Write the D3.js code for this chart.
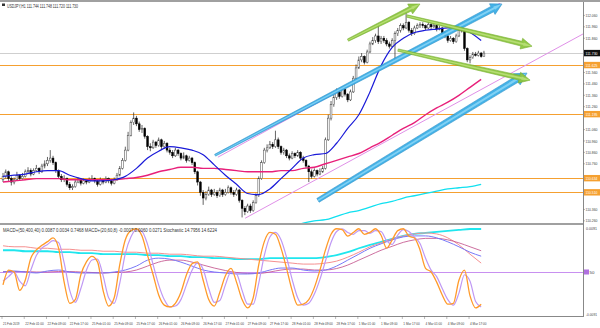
<!DOCTYPE html>
<html><head><meta charset="utf-8">
<script src="https://cdn.jsdelivr.net/npm/d3@7"></script>
<style>body{margin:0;background:#fff}svg{display:block;font-family:"Liberation Sans",Arial,sans-serif}.ax{font-family:"Liberation Sans Narrow","Liberation Sans",Arial,sans-serif}</style>
</head><body><svg id="c" width="600" height="328"></svg>
<script>
// ---------------- DATA ----------------
const symbolTitle = "USDJPY,H1  111.744 111.748 111.720 111.730";
const subTitle = "MACD+(50,400,40) 0.0087 0.0034 0.7468   MACD+(20,60,8) -0.0007 0.0060 0.0271   Stochastic 14.7956 14.6224";
const firstOpen = 110.62;
const closes = [110.65,110.69,110.63,110.60,110.62,110.66,110.63,
110.65,110.69,110.70,110.67,110.70,110.72,110.69,110.74,110.76,
110.79,110.81,110.77,110.70,
110.65,110.62,110.63,
110.58,110.55,110.56,110.60,
110.62,110.59,110.61,110.60,110.62,
110.63,110.61,110.58,110.62,110.60,110.63,110.61,110.59,110.62,
110.66,110.72,110.79,110.88,
111.01,111.12,111.16,
111.11,111.06,111.07,111.00,110.91,
110.90,110.95,110.92,110.97,110.91,110.94,
110.88,110.86,110.83,110.88,110.85,110.81,
110.83,110.79,110.81,110.77,
110.69,110.60,110.51,110.46,110.49,
110.53,110.49,110.51,110.48,110.53,110.49,110.51,110.55,110.51,110.49,110.53,
110.44,110.37,110.34,110.39,110.35,
110.42,110.48,
110.63,110.77,
110.88,110.90,110.93,110.91,110.97,
110.91,110.86,110.88,110.83,110.81,
110.85,110.83,110.86,110.81,110.79,
110.74,110.69,110.65,110.70,110.67,110.69,110.72,
110.97,111.16,111.28,
111.34,111.39,111.35,111.41,111.37,111.32,111.39,
111.51,111.60,
111.67,111.70,111.65,111.74,
111.81,111.84,111.88,111.83,111.86,
111.84,111.81,111.79,111.84,111.90,
111.93,111.97,111.95,112.00,
111.93,111.90,111.95,111.97,
111.98,111.97,111.95,111.98,111.96,111.97,111.94,111.95,
111.91,111.88,111.84,111.86,111.83,111.88,111.93,
111.93,
111.77,111.67,
111.69,
111.72,111.71,111.73,111.70,111.73];
const highs = [110.68,110.71,110.70,110.65,110.64,110.69,110.67,110.68,110.71,110.73,
110.72,110.72,110.75,110.73,110.76,110.79,110.82,110.88,110.83,110.78,
110.71,110.67,110.66,110.64,110.60,110.58,110.62,110.64,110.63,110.63,
110.62,110.64,110.66,110.64,110.62,110.64,110.63,110.65,110.64,110.62,
110.64,110.68,110.74,110.81,110.91,111.04,111.14,111.21,111.18,111.13,
111.10,111.08,111.01,110.94,110.97,110.96,110.99,110.98,110.96,110.95,
110.90,110.88,110.90,110.89,110.86,110.86,110.84,110.83,110.82,110.78,
110.70,110.61,110.53,110.52,110.56,110.54,110.54,110.53,110.55,110.54,
110.54,110.57,110.56,110.53,110.55,110.54,110.45,110.39,110.41,110.41,
110.44,110.50,110.65,110.79,110.90,110.93,110.96,110.95,111.05,110.99,
110.92,110.90,110.89,110.85,110.87,110.86,110.88,110.87,110.83,110.80,
110.75,110.71,110.72,110.71,110.72,110.74,110.99,111.19,111.31,111.37,
111.42,111.41,111.43,111.42,111.38,111.41,111.53,111.63,111.70,111.73,
111.71,111.76,111.83,111.87,111.90,111.98,111.88,111.88,111.86,111.83,
111.86,111.92,111.95,111.99,111.99,112.08,112.01,111.95,111.97,111.99,
112.00,112.00,111.98,112.00,111.99,111.99,111.98,111.97,111.96,111.92,
111.89,111.88,111.87,111.90,111.95,111.99,111.94,111.78,111.71,111.74,
111.74,111.75,111.74,111.75];
const lows = [110.60,110.63,110.61,110.57,110.58,110.61,110.61,110.62,110.64,110.67,
110.65,110.66,110.69,110.67,110.68,110.72,110.74,110.77,110.75,110.68,
110.63,110.60,110.60,110.56,110.53,110.53,110.55,110.59,110.57,110.58,
110.58,110.59,110.61,110.59,110.56,110.57,110.58,110.59,110.59,110.57,
110.58,110.61,110.65,110.71,110.78,110.87,111.00,111.10,111.09,111.04,
111.03,110.98,110.88,110.87,110.89,110.90,110.91,110.89,110.89,110.86,
110.84,110.81,110.82,110.83,110.79,110.80,110.77,110.78,110.75,110.67,
110.57,110.48,110.40,110.44,110.48,110.47,110.48,110.46,110.47,110.47,
110.48,110.50,110.49,110.47,110.48,110.42,110.29,110.31,110.33,110.33,
110.34,110.41,110.47,110.62,110.76,110.86,110.89,110.89,110.90,110.89,
110.84,110.84,110.81,110.79,110.80,110.81,110.82,110.79,110.77,110.72,
110.60,110.63,110.64,110.65,110.66,110.68,110.71,110.96,111.14,111.26,
111.32,111.33,111.34,111.35,111.30,111.31,111.38,111.50,111.59,111.65,
111.63,111.64,111.73,111.80,111.82,111.81,111.81,111.82,111.79,111.77,
111.78,111.67,111.88,111.91,111.93,111.94,111.91,111.88,111.89,111.94,
111.95,111.95,111.93,111.94,111.94,111.95,111.92,111.93,111.89,111.86,
111.82,111.83,111.81,111.82,111.87,111.91,111.75,111.65,111.64,111.68,
111.70,111.70,111.69,111.70];
// moving averages, one value every 4 bars (bar 0,4,8,...)
const maBlue = [110.65,110.66,110.67,110.69,110.70,110.70,110.66,110.63,110.61,110.61,
110.62,110.65,110.72,110.81,110.87,110.91,110.90,110.88,110.84,110.75,
110.66,110.58,110.50,110.49,110.54,110.63,110.72,110.81,110.84,110.85,
110.94,111.07,111.19,111.39,111.62,111.78,111.86,111.91,111.93,111.94,
111.95,111.95,111.91,111.84];
const maRed = [110.60,110.61,110.62,110.63,110.63,110.63,110.62,110.62,110.62,110.62,
110.62,110.63,110.64,110.66,110.69,110.71,110.73,110.73,110.72,110.72,
110.71,110.70,110.69,110.69,110.69,110.70,110.70,110.72,110.73,110.76,
110.79,110.82,110.85,110.90,110.95,111.01,111.07,111.12,111.19,111.25,
111.30,111.36,111.43,111.50];
// slow MA, every 4 bars starting at bar 100
const maCyanStart = 100;
const maCyan = [110.19,110.21,110.24,110.26,110.27,110.30,110.33,110.35,110.38,110.41,
110.43,110.46,110.48,110.50,110.52,110.54,110.55,110.56,110.58];
const levelLines = [111.625, 111.195, 110.634, 110.510];
const levelLabels = ["111.625","111.195","110.634","110.510"];
const lastPrice = 111.730;
const priceTicks = [112.16,112.06,111.96,111.86,111.76,111.66,111.56,111.46,111.36,111.26,
111.16,111.06,110.96,110.86,110.76,110.66,110.56,110.46,110.36,110.26];
const timeLabels = ["21 Feb 2019","22 Feb 01:00","22 Feb 09:00","22 Feb 17:00","25 Feb 01:00",
"25 Feb 09:00","25 Feb 17:00","26 Feb 01:00","26 Feb 09:00","26 Feb 17:00","27 Feb 01:00",
"27 Feb 09:00","27 Feb 17:00","28 Feb 01:00","28 Feb 09:00","28 Feb 17:00","1 Mar 01:00",
"1 Mar 09:00","1 Mar 17:00","4 Mar 01:00","4 Mar 09:00","4 Mar 17:00"];
// channel lines [bar, price] pairs
const channelPink = [[[77.3,110.818],[180.9,112.195]],[[87.1,110.283],[208.6,111.897]]];
// annotation arrows [tailBar, tailPrice, headBar, headPrice]
const arrowsBlue = [[76.3,110.835,179.5,112.16],[113.3,110.44,188.5,111.555]];
const arrowsGreen = [[124.1,111.844,150.0,112.16],[145.3,112.055,190.3,111.79],[142.1,111.756,189.6,111.493]];
// sub window: stochastic every 2 bars
const stochMain = [36,52,50,30,41,65,74,79,83,87,76,39,16,20,47,61,67,61,30,13,
22,58,85,95,97,89,68,47,25,14,12,16,28,47,59,61,41,20,13,28,
46,54,39,20,11,22,58,83,93,91,76,54,30,14,15,20,33,52,74,91,
97,96,89,93,97,91,93,97,90,76,85,95,97,89,87,74,54,50,39,25,
15,16,41,52,24,11,15];
const stochSignal = [40,45,50,40,35,52,68,76,80,84,82,60,30,17,32,52,63,64,46,22,
16,38,70,88,96,94,80,58,36,20,12,13,20,36,52,60,53,32,17,19,
36,50,48,30,15,15,38,68,88,93,85,66,42,22,14,16,26,42,62,82,
94,97,93,91,95,95,92,95,94,84,80,90,96,94,88,81,65,52,45,32,
20,14,27,47,40,18,12];
const stochLevel = 50;
// MACD lines every 4 bars
const macdCyan = [0.0044,0.0044,0.0042,0.0042,0.0042,0.0040,0.0040,0.0038,0.0038,0.0036,
0.0036,0.0036,0.0036,0.0034,0.0034,0.0032,0.0032,0.0030,0.0030,0.0028,
0.0028,0.0026,0.0026,0.0026,0.0028,0.0028,0.0028,0.0028,0.0028,0.0030,
0.0034,0.0040,0.0048,0.0055,0.0061,0.0067,0.0073,0.0077,0.0079,0.0081,
0.0083,0.0085,0.0087,0.0087];
const macdSalmon = [0.0053,0.0051,0.0051,0.0048,0.0048,0.0046,0.0046,0.0044,0.0044,0.0042,
0.0042,0.0040,0.0040,0.0038,0.0038,0.0036,0.0036,0.0034,0.0032,0.0032,
0.0030,0.0028,0.0026,0.0024,0.0022,0.0020,0.0018,0.0016,0.0016,0.0018,
0.0022,0.0030,0.0040,0.0051,0.0059,0.0067,0.0073,0.0077,0.0079,0.0077,
0.0069,0.0055,0.0036,0.0018];
const macdBlue = [0,0.0002,0,-0.0002,0.0002,0.0004,0,-0.0002,-0.0002,-0.0002,
0,0.0004,0.0012,0.0024,0.0028,0.0026,0.0020,0.0012,0.0004,0,
-0.0002,-0.0004,-0.0004,-0.0002,0.0004,0.0008,0.0008,0.0004,0.0002,0.0004,
0.0012,0.0024,0.0036,0.0048,0.0057,0.0065,0.0071,0.0073,0.0073,0.0069,
0.0061,0.0051,0.0040,0.0032];
const macdRed = [0.0001,0.0001,0.0001,0,0,0.0001,0.0001,0,-0.0001,-0.0002,
-0.0001,0,0.0004,0.0012,0.0020,0.0024,0.0024,0.0020,0.0014,0.0008,
0.0003,-0.0001,-0.0003,-0.0003,0,0.0004,0.0006,0.0006,0.0004,0.0004,
0.0007,0.0014,0.0024,0.0034,0.0044,0.0052,0.0060,0.0065,0.0068,0.0068,
0.0065,0.0059,0.0051,0.0043];
const subTicks = [{v:0.0091,t:"0.0091"},{v:-0.0091,t:"-0.0091"}];

// ---------------- CHART ----------------
const svg = d3.select("#c");
const W = 600, AX = 583;
const mainTop = 3, mainBot = 223, subTop = 226, subBot = 316;
const x = d3.scaleLinear().domain([0, 208]).range([3, 581.24]);
const y = d3.scaleLinear().domain([110.25, 112.125]).range([222, 8]);
const yM = d3.scaleLinear().domain([-0.0091, 0.0091]).range([317, 227]);
const yS = d3.scaleLinear().domain([0, 100]).range([318, 226]);

const defs = svg.append("defs");
defs.append("clipPath").attr("id","cm").append("rect").attr("x",0).attr("y",mainTop).attr("width",AX).attr("height",mainBot-mainTop);
defs.append("clipPath").attr("id","cs").append("rect").attr("x",0).attr("y",subTop).attr("width",AX).attr("height",subBot-subTop);

svg.append("rect").attr("width",W).attr("height",328).attr("fill","#fff");
// frame
svg.append("rect").attr("x",0).attr("y",0).attr("width",W).attr("height",2).attr("fill","#a0a0a0");
svg.append("rect").attr("x",0).attr("y",223).attr("width",AX).attr("height",2).attr("fill","#a0a0a0");
svg.append("line").attr("x1",AX+0.5).attr("x2",AX+0.5).attr("y1",2).attr("y2",subBot+1).attr("stroke","#888").attr("stroke-width",1);
svg.append("line").attr("x1",0).attr("x2",AX+1).attr("y1",subBot+0.5).attr("y2",subBot+0.5).attr("stroke","#888");

const gm = svg.append("g").attr("clip-path","url(#cm)");
// level lines
gm.selectAll("line.lv").data(levelLines).join("line").attr("class","lv")
  .attr("x1",0).attr("x2",AX).attr("y1",d=>Math.round(y(d))+0.5).attr("y2",d=>Math.round(y(d))+0.5)
  .attr("stroke","#f5a030").attr("stroke-width",1);
gm.append("line").attr("x1",0).attr("x2",AX).attr("y1",Math.round(y(lastPrice))+0.5).attr("y2",Math.round(y(lastPrice))+0.5)
  .attr("stroke","#cfcfcf").attr("stroke-width",1);

// candles
const bars = closes.map((c,i)=>({i, o: i===0?firstOpen:closes[i-1], c, h: highs[i], l: lows[i]}));
const cg = gm.append("g");
cg.selectAll("line.w").data(bars).join("line").attr("class","w")
  .attr("x1",d=>x(d.i)).attr("x2",d=>x(d.i)).attr("y1",d=>y(d.h)).attr("y2",d=>y(d.l))
  .attr("stroke","#222").attr("stroke-width",0.7);
cg.selectAll("rect.b").data(bars).join("rect").attr("class","b")
  .attr("x",d=>x(d.i)-0.9).attr("width",1.8)
  .attr("y",d=>y(Math.max(d.o,d.c)))
  .attr("height",d=>Math.max(0.7, Math.abs(y(d.o)-y(d.c))))
  .attr("fill",d=>d.c>=d.o?"#fff":"#000").attr("stroke",d=>d.c>=d.o?"#444":"#000").attr("stroke-width",0.5);

// moving averages
const lineGen = (xs, ys) => d3.line().x(xs).y(ys).curve(d3.curveMonotoneX);
gm.append("path").datum(maCyan).attr("fill","none").attr("stroke","#10e0f0").attr("stroke-width",1.3)
  .attr("d", lineGen((d,k)=>x(maCyanStart+4*k), d=>y(d)));
gm.append("path").datum(maRed).attr("fill","none").attr("stroke","#e8207a").attr("stroke-width",1.4)
  .attr("d", lineGen((d,k)=>x(4*k), d=>y(d)));
gm.append("path").datum(maBlue).attr("fill","none").attr("stroke","#1a1ad8").attr("stroke-width",1.2)
  .attr("d", lineGen((d,k)=>x(4*k), d=>y(d)));

// channel lines (extended)
channelPink.forEach(([a,b])=>{
  const x1=x(a[0]), y1=y(a[1]), x2=x(b[0]), y2=y(b[1]);
  const s=(y2-y1)/(x2-x1);
  const xe = AX;
  gm.append("line").attr("x1",x1).attr("y1",y1).attr("x2",xe).attr("y2",y1+s*(xe-x1))
    .attr("stroke","#e090e8").attr("stroke-width",1);
});

// arrows
function arrowPts(x0,y0,x1,y1,w0,w1,hw,hl){
  const dx=x1-x0, dy=y1-y0, L=Math.hypot(dx,dy), ux=dx/L, uy=dy/L, px=-uy, py=ux;
  const nx=x1-ux*hl, ny=y1-uy*hl;
  return [[x0+px*w0,y0+py*w0],[nx+px*w1,ny+py*w1],[nx+px*hw,ny+py*hw],[x1,y1],
          [nx-px*hw,ny-py*hw],[nx-px*w1,ny-py*w1],[x0-px*w0,y0-py*w0]];
}
const ag = svg.append("g").attr("clip-path","url(#cm)");
function drawArrow(a, w0, w1, hw, hl, fill, edge, hi){
  const x0=x(a[0]), y0=y(a[1]), x1=x(a[2]), y1=y(a[3]);
  const pts = arrowPts(x0,y0,x1,y1,w0,w1,hw,hl);
  ag.append("polygon").attr("points", pts.map(p=>p.join(",")).join(" "))
    .attr("fill",fill).attr("stroke",edge).attr("stroke-width",0.6).attr("stroke-linejoin","round").attr("opacity",0.95);
  const hp = arrowPts(x0,y0,x1,y1,w0*0.35,w1*0.35,hw*0.3,hl*0.8);
  ag.append("polygon").attr("points", hp.map(p=>p.join(",")).join(" ")).attr("fill",hi).attr("opacity",0.8);
}
drawArrow(arrowsBlue[0], 1.0, 3.0, 6, 11, "#3aaee6", "#2a8fc8", "#8fd8f8");
drawArrow(arrowsBlue[1], 2.2, 3.2, 6.5, 12, "#3aaee6", "#2a8fc8", "#8fd8f8");
arrowsGreen.forEach(a=>drawArrow(a, 1.2, 2.4, 5.5, 11, "#8cc63f", "#76ad2e", "#bfe27e"));

// ---- sub window ----
const gs = svg.append("g").attr("clip-path","url(#cs)");
gs.append("line").attr("x1",0).attr("x2",AX).attr("y1",Math.round(yS(stochLevel))+0.5).attr("y2",Math.round(yS(stochLevel))+0.5)
  .attr("stroke","#c890f0").attr("stroke-width",1);
gs.append("path").datum(macdCyan).attr("fill","none").attr("stroke","#20e6ee").attr("stroke-width",1.8)
  .attr("d", lineGen((d,k)=>x(4*k), d=>yM(d)));
gs.append("path").datum(macdSalmon).attr("fill","none").attr("stroke","#f59090").attr("stroke-width",1)
  .attr("d", lineGen((d,k)=>x(4*k), d=>yM(d)));
gs.append("path").datum(macdRed).attr("fill","none").attr("stroke","#c04a86").attr("stroke-width",0.8)
  .attr("d", lineGen((d,k)=>x(4*k), d=>yM(d)));
gs.append("path").datum(macdBlue).attr("fill","none").attr("stroke","#7878f8").attr("stroke-width",1)
  .attr("d", lineGen((d,k)=>x(4*k), d=>yM(d)));
gs.append("path").datum(stochSignal).attr("fill","none").attr("stroke","#bf98f4").attr("stroke-width",1.2)
  .attr("d", lineGen((d,k)=>x(2*k), d=>yS(d)));
gs.append("path").datum(stochMain).attr("fill","none").attr("stroke","#ff9a2a").attr("stroke-width",1.3)
  .attr("d", lineGen((d,k)=>x(2*k), d=>yS(d)));

// ---- texts ----
const txt = svg.append("g").attr("font-size",5).attr("fill","#333");
txt.append("rect").attr("x",2).attr("y",3.5).attr("width",3).attr("height",2.5).attr("fill","#333");
txt.append("text").attr("x",7).attr("y",7.5).attr("textLength",71).attr("lengthAdjust","spacingAndGlyphs").text(symbolTitle);
txt.append("text").attr("x",3).attr("y",231.5).attr("textLength",214).attr("lengthAdjust","spacingAndGlyphs").text(subTitle);

// price axis
const pa = svg.append("g").attr("class","ax").attr("font-size",4.4).attr("fill","#444");
const boxVals = levelLines.concat([lastPrice]);
const visTicks = priceTicks.filter(d => boxVals.every(b => Math.abs(y(b)-y(d)) > 6.5) && y(d) > 5.5);
pa.selectAll("g.t").data(visTicks).join("g").attr("class","t").each(function(d){
  const g=d3.select(this), yy=y(d);
  g.append("line").attr("x1",AX).attr("x2",AX+2).attr("y1",yy).attr("y2",yy).attr("stroke","#777").attr("stroke-width",0.5);
  g.append("text").attr("x",585.5).attr("y",yy+1.6).attr("textLength",12).attr("lengthAdjust","spacingAndGlyphs").text(d.toFixed(3));
});
levelLines.forEach((v,k)=>{
  const yy=y(v);
  pa.append("rect").attr("x",AX+1).attr("y",yy-3.2).attr("width",16).attr("height",6.4).attr("fill","#f5a030");
  pa.append("text").attr("x",585.5).attr("y",yy+1.6).attr("fill","#fff").attr("textLength",12).attr("lengthAdjust","spacingAndGlyphs").text(levelLabels[k]);
});
{
  const yy=y(lastPrice);
  pa.append("rect").attr("x",AX+1).attr("y",yy-3.2).attr("width",16).attr("height",6.4).attr("fill","#111");
  pa.append("text").attr("x",585.5).attr("y",yy+1.6).attr("fill","#fff").attr("textLength",12).attr("lengthAdjust","spacingAndGlyphs").text(lastPrice.toFixed(3));
}
// sub axis
subTicks.forEach(s=>{
  const yy = s.v>0 ? yM(s.v)+2.5 : yM(s.v)-0.8;
  pa.append("text").attr("x",586).attr("y",yy).attr("textLength",11).attr("lengthAdjust","spacingAndGlyphs").text(s.t);
});
{
  const yy=yS(stochLevel);
  pa.append("rect").attr("x",AX+1).attr("y",yy-2.5).attr("width",5).attr("height",5).attr("fill","#b070e0");
  pa.append("text").attr("x",589.5).attr("y",yy+1.6).text("50");
}
// time axis
const ta = svg.append("g").attr("class","ax").attr("font-size",3.9).attr("fill","#444");
timeLabels.forEach((t,k)=>{
  const xx = x(8*k)-1;
  ta.append("line").attr("x1",xx).attr("x2",xx).attr("y1",subBot).attr("y2",subBot+3).attr("stroke","#777").attr("stroke-width",0.5);
  ta.append("text").attr("x",xx+1).attr("y",324.5).attr("textLength", t.length>11?18.5:16.5).attr("lengthAdjust","spacingAndGlyphs").text(t);
});
</script></body></html>
